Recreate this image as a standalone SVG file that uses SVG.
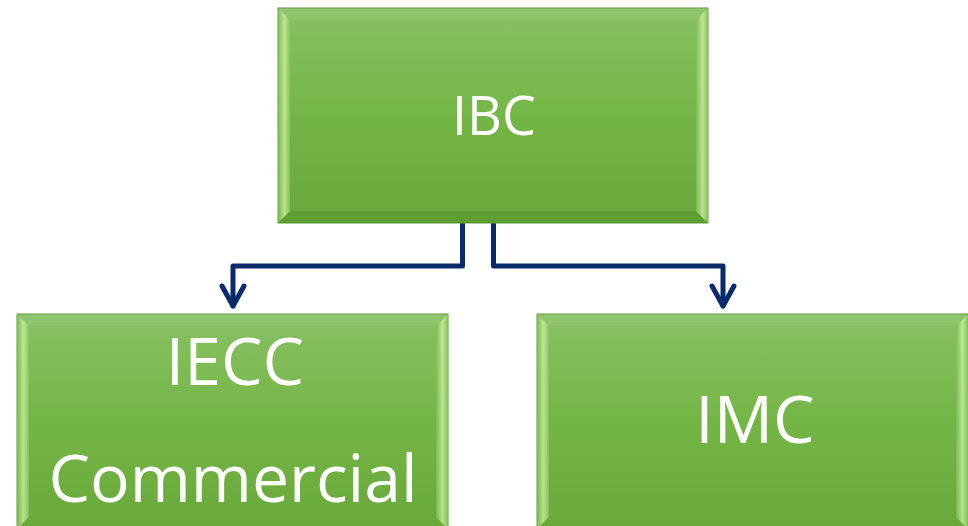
<svg xmlns="http://www.w3.org/2000/svg" width="968" height="526" viewBox="0 0 968 526">
<defs>
<linearGradient id="g" x1="0" y1="0" x2="0" y2="1">
<stop offset="0" stop-color="#88c064"/>
<stop offset="0.5" stop-color="#74b646"/>
<stop offset="1" stop-color="#69a83a"/>
</linearGradient>
<linearGradient id="side" x1="0" y1="0" x2="1" y2="0">
<stop offset="0" stop-color="#7fbb55"/>
<stop offset="0.55" stop-color="#c8f39e"/>
<stop offset="1" stop-color="#8cc462"/>
</linearGradient>
</defs>
<style>
.box{fill:url(#g);stroke:#5f9a36;stroke-width:1}
.bt{fill:#ffffff;opacity:0.08}
.bb{fill:#3d7a18;opacity:0.25}
.bs{fill:url(#side);opacity:0.8}
.lbl{font-family:"Open Sans","Liberation Sans",sans-serif;fill:#ffffff;text-anchor:middle}
.con{fill:none;stroke:#0b2a6b;stroke-width:5;stroke-linejoin:round;stroke-linecap:round}
</style>
<g id="connectors">
<path class="con" d="M462.5,224 V266 H233 V306"/>
<path class="con" d="M222,286 L233,306 L244,286"/>
<path class="con" d="M493.5,224 V266 H723 V306"/>
<path class="con" d="M712,286 L723,306 L734,286"/>
</g>
<g id="node-ibc">
<rect class="box" x="278" y="8" width="430" height="215"/>
<polygon class="bt" points="278,8 708,8 696,20 290,20"/>
<polygon class="bb" points="278,223 708,223 696,211 290,211"/>
<polygon class="bs" points="278,8 290,20 290,211 278,223"/>
<polygon class="bs" points="708,8 696,20 696,211 708,223"/>
<text class="lbl" x="494" y="135" font-size="54">IBC</text>
</g>
<g id="node-iecc">
<rect class="box" x="17" y="314" width="431" height="215"/>
<polygon class="bt" points="17,314 448,314 436,326 29,326"/>
<polygon class="bs" points="17,314 29,326 29,517 17,529"/>
<polygon class="bs" points="448,314 436,326 436,517 448,529"/>
<text class="lbl" x="235" y="385" font-size="66">IECC</text>
<text class="lbl" x="233" y="502" font-size="66">Commercial</text>
</g>
<g id="node-imc">
<rect class="box" x="537" y="314" width="431" height="215"/>
<polygon class="bt" points="537,314 968,314 956,326 549,326"/>
<polygon class="bs" points="537,314 549,326 549,517 537,529"/>
<polygon class="bs" points="968,314 956,326 956,517 968,529"/>
<text class="lbl" x="755" y="443" font-size="66">IMC</text>
</g>
</svg>
